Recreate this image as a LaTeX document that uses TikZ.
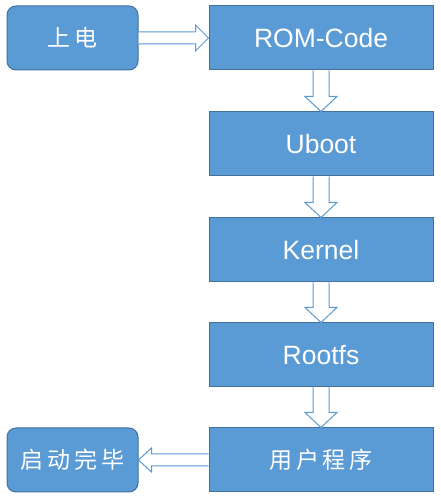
\documentclass[tikz,border=0pt]{standalone}
\usepackage{fontspec}
\setmainfont{Liberation Sans}
\newfontfamily\cjk{Noto Sans CJK SC}
\usetikzlibrary{positioning,calc}
\definecolor{boxblue}{HTML}{5B9BD5}
\definecolor{edgeblue}{HTML}{41719C}
\tikzset{
    stage/.style={draw=edgeblue, line width=1pt, fill=boxblue, text=white,
        minimum width=224pt, minimum height=64pt, inner sep=0pt,
        font=\fontsize{26.5}{30}\selectfont},
    endpoint/.style={stage, rounded corners=9pt, minimum width=131pt,
        font=\cjk\fontsize{23}{28}\selectfont},
    hollow/.style={draw=boxblue, line width=1pt, fill=white, line join=miter}
}
\begin{document}
\begin{tikzpicture}[x=1pt,y=1pt]
        % page frame
        \useasboundingbox (0,0) rectangle (441,504);
        % the boot stages
        \node[stage] (rom) at (321,466) {ROM-Code};
        \node[stage, below=41pt of rom] (uboot) {Uboot};
        \node[stage, below=41pt of uboot] (kernel) {Kernel};
        \node[stage, below=40pt of kernel] (rootfs) {Rootfs};
        \node[stage, below=40pt of rootfs, font=\cjk\fontsize{23}{28}\selectfont] (app) {用\,户\,程\,序};
        % start and end
        \node[endpoint] (power) at (72.5,466) {上\,电};
        \node[endpoint] (done) at (72.5,44) {启\,动\,完\,毕};

        % arrow into the first stage
        \draw[hollow] ($(power.east)+(0,6)$) -- ($(rom.west)+(-13,6)$) -- ($(rom.west)+(-13,13)$)
            -- (rom.west) -- ($(rom.west)+(-13,-13)$) -- ($(rom.west)+(-13,-6)$)
            -- ($(power.east)+(0,-6)$);
        % arrows down the chain
        \foreach \a/\b in {rom/uboot, uboot/kernel, kernel/rootfs, rootfs/app}
            \draw[hollow] ($(\a.south)+(-8,0)$) -- ($(\b.north)+(-8,15)$) -- ($(\b.north)+(-16,15)$)
                -- (\b.north) -- ($(\b.north)+(16,15)$) -- ($(\b.north)+(8,15)$)
                -- ($(\a.south)+(8,0)$);
        % arrow out of the last stage
        \draw[hollow] ($(app.west)+(0,6)$) -- ($(done.east)+(13,6)$) -- ($(done.east)+(13,12)$)
            -- (done.east) -- ($(done.east)+(13,-12)$) -- ($(done.east)+(13,-6)$)
            -- ($(app.west)+(0,-6)$);
\end{tikzpicture}
\end{document}
